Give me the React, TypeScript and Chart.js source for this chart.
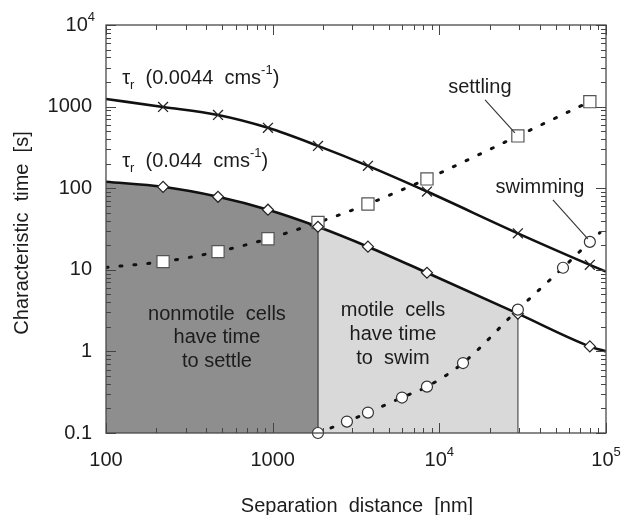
import React, { useEffect, useRef } from 'react';
import { Chart, registerables } from 'chart.js';

Chart.register(...registerables);

// ---- data (log-log) ----
const markerX = [220, 470, 937, 1870, 3730, 8430, 29600, 80000];
const tauSlowMarkY = [990, 790, 550, 330, 188, 91, 28, 11.5]; // crosses, 0.0044 cm/s
const tauFastMarkY = [104, 78.5, 54.5, 33.7, 19.2, 9.2, 2.9, 1.15]; // diamonds, 0.044 cm/s
const settlingMarkY = [12.6, 16.7, 24, 38, 64, 130, 437, 1150]; // squares
const swimMarkX = [1870, 2790, 3730, 5970, 8430, 13870, 29600, 55200, 80000];
const swimMarkY = [0.1, 0.138, 0.178, 0.272, 0.37, 0.72, 3.25, 10.6, 22]; // circles

const curveX = [100, 220, 470, 937, 1870, 3730, 8430, 29600, 80000, 100000];
const tauSlowCurveY = [1240, 990, 790, 550, 330, 188, 91, 28, 11.5, 9.5];
const tauFastCurveY = [120, 104, 78.5, 54.5, 33.7, 19.2, 9.2, 2.9, 1.15, 1.0];
const settlingCurveX = [100, 220, 470, 937, 1870, 3730, 8430, 29600, 80000];
const settlingCurveY = [10.7, 12.6, 16.7, 24, 38, 64, 130, 437, 1150];
const swimCurveX = [1870, 2790, 3730, 5970, 8430, 13870, 29600, 55200, 80000, 92000];
const swimCurveY = [0.1, 0.138, 0.178, 0.272, 0.37, 0.72, 3.25, 10.6, 22, 28.5];

const settleLimit = 1870; // nonmotile region right edge
const swimLimit = 29600; // motile region right edge

const xMin = 100, xMax = 100000, yMin = 0.1, yMax = 10000;
const xTickValues = [100, 1000, 10000, 100000];
const xTickLabels = [['100', ''], ['1000', ''], ['10', '4'], ['10', '5']];
const yTickValues = [0.1, 1, 10, 100, 1000, 10000];
const yTickLabels = [['0.1', ''], ['1', ''], ['10', ''], ['100', ''], ['1000', ''], ['10', '4']];

const xTitle = 'Separation  distance  [nm]';
const yTitle = 'Characteristic  time  [s]';

const FONT = '"Liberation Sans", Arial, Helvetica, sans-serif';
const TXT = '#1c1c1c';

const pts = (xs: number[], ys: number[]) => xs.map((x, i) => ({ x, y: ys[i] }));

function minorValues(min: number, max: number) {
  const out: { v: number; major: boolean }[] = [];
  for (let e = Math.round(Math.log10(min)); e <= Math.round(Math.log10(max)); e++) {
    for (let m = 1; m < 10; m++) {
      const v = m * Math.pow(10, e);
      if (v >= min * 0.999 && v <= max * 1.001) out.push({ v, major: m === 1 });
    }
  }
  return out;
}

type Part = { t: string; s: number; dy: number };
function richWidth(ctx: CanvasRenderingContext2D, parts: Part[]) {
  let w = 0;
  for (const p of parts) {
    ctx.font = `${p.s}px ${FONT}`;
    w += ctx.measureText(p.t).width;
  }
  return w;
}
function drawRich(ctx: CanvasRenderingContext2D, parts: Part[], x: number, y: number, align: 'left' | 'center' | 'right') {
  const w = richWidth(ctx, parts);
  let cx = align === 'left' ? x : align === 'center' ? x - w / 2 : x - w;
  ctx.textAlign = 'left';
  ctx.textBaseline = 'middle';
  for (const p of parts) {
    ctx.font = `${p.s}px ${FONT}`;
    ctx.fillText(p.t, cx, y + p.dy);
    cx += ctx.measureText(p.t).width;
  }
}
const numParts = (base: string, sup: string): Part[] =>
  sup ? [{ t: base, s: 20, dy: 0 }, { t: sup, s: 13, dy: -8 }] : [{ t: base, s: 20, dy: 0 }];

const tauLabels = [
  { x: 125, y: 2240, speed: '0.0044' },
  { x: 125, y: 210, speed: '0.044' },
];
const callouts = [
  { text: 'settling', x: 17500, y: 1700, x1: 18800, y1: 1208, x2: 28400, y2: 476 },
  { text: 'swimming', x: 40200, y: 101, x1: 48000, y1: 72, x2: 77800, y2: 24 },
];
const regionLabels = [
  { x: 463, ys: [2.82, 1.48, 0.75], lines: ['nonmotile  cells', 'have time', 'to settle'] },
  { x: 5270, ys: [3.17, 1.59, 0.83], lines: ['motile  cells', 'have time', 'to  swim'] },
];

const decorPlugin = {
  id: 'decor',
  afterDatasetsDraw(chart: any) {
    const ctx: CanvasRenderingContext2D = chart.ctx;
    const { left, right, top, bottom } = chart.chartArea;
    const xs = chart.scales.x;
    const ys = chart.scales.y;
    ctx.save();
    // frame
    ctx.strokeStyle = '#4a4a4a';
    ctx.lineWidth = 1.3;
    ctx.strokeRect(left, top, right - left, bottom - top);
    // ticks (inward, all four sides)
    ctx.lineWidth = 1;
    ctx.strokeStyle = '#444';
    ctx.beginPath();
    for (const { v, major } of minorValues(xMin, xMax)) {
      const px = Math.round(xs.getPixelForValue(v)) + 0.5;
      const L = major ? 10 : 5;
      ctx.moveTo(px, bottom);
      ctx.lineTo(px, bottom - L);
      ctx.moveTo(px, top);
      ctx.lineTo(px, top + L);
    }
    for (const { v, major } of minorValues(yMin, yMax)) {
      const py = Math.round(ys.getPixelForValue(v)) + 0.5;
      const L = major ? 10 : 5;
      ctx.moveTo(left, py);
      ctx.lineTo(left + L, py);
      ctx.moveTo(right, py);
      ctx.lineTo(right - L, py);
    }
    ctx.stroke();

    ctx.fillStyle = TXT;
    // tick labels
    xTickValues.forEach((v, i) => {
      const [b, s] = xTickLabels[i];
      drawRich(ctx, numParts(b, s), xs.getPixelForValue(v), bottom + 27, 'center');
    });
    yTickValues.forEach((v, i) => {
      const [b, s] = yTickLabels[i];
      drawRich(ctx, numParts(b, s), left - 14 + (s ? 3 : 0), ys.getPixelForValue(v), 'right');
    });
    // axis titles
    ctx.font = `20px ${FONT}`;
    ctx.textAlign = 'center';
    ctx.textBaseline = 'middle';
    ctx.fillText(xTitle, (left + right) / 2 + 1, bottom + 73);
    ctx.save();
    ctx.translate(22, 233);
    ctx.rotate(-Math.PI / 2);
    ctx.fillText(yTitle, 0, 0);
    ctx.restore();

    // tau labels
    for (const t of tauLabels) {
      drawRich(
        ctx,
        [
          { t: 'τ', s: 20, dy: 0 },
          { t: 'r', s: 13, dy: 7 },
          { t: '  (' + t.speed + '  cms', s: 20, dy: 0 },
          { t: '-1', s: 13, dy: -8 },
          { t: ')', s: 20, dy: 0 },
        ],
        xs.getPixelForValue(t.x),
        ys.getPixelForValue(t.y),
        'left'
      );
    }
    // callouts
    for (const c of callouts) {
      ctx.font = `20px ${FONT}`;
      ctx.textAlign = 'center';
      ctx.textBaseline = 'middle';
      ctx.fillText(c.text, xs.getPixelForValue(c.x), ys.getPixelForValue(c.y));
      ctx.strokeStyle = '#333';
      ctx.lineWidth = 1.1;
      ctx.beginPath();
      ctx.moveTo(xs.getPixelForValue(c.x1), ys.getPixelForValue(c.y1));
      ctx.lineTo(xs.getPixelForValue(c.x2), ys.getPixelForValue(c.y2));
      ctx.stroke();
    }
    // region labels
    for (const r of regionLabels) {
      ctx.font = `20px ${FONT}`;
      ctx.textAlign = 'center';
      ctx.textBaseline = 'middle';
      r.lines.forEach((ln, i) => ctx.fillText(ln, xs.getPixelForValue(r.x), ys.getPixelForValue(r.ys[i])));
    }
    ctx.restore();
  },
};

export default function App() {
  const ref = useRef<HTMLCanvasElement>(null);
  useEffect(() => {
    document.body.style.margin = '0';
    const canvas = ref.current!;
    const fastAtSettle = tauFastCurveY[curveX.indexOf(settleLimit)];
    const fastAtSwim = tauFastCurveY[curveX.indexOf(swimLimit)];
    const chart = new Chart(canvas, {
      type: 'line',
      data: {
        datasets: [
          // tau (0.044) curve with shaded regions beneath
          {
            data: pts(curveX, tauFastCurveY),
            borderColor: '#111',
            borderWidth: 2.6,
            pointRadius: 0,
            cubicInterpolationMode: 'monotone',
            fill: 'start',
            backgroundColor: 'rgba(0,0,0,0)',
            segment: {
              backgroundColor: (c: any) => {
                const x1 = c.p1.parsed.x;
                if (x1 <= settleLimit) return '#8e8e8e';
                if (x1 <= swimLimit) return '#d9d9d9';
                return 'rgba(0,0,0,0)';
              },
            },
            order: 20,
          } as any,
          {
            data: [{ x: settleLimit, y: yMin }, { x: settleLimit, y: fastAtSettle }],
            borderColor: '#555',
            borderWidth: 1.6,
            pointRadius: 0,
            order: 15,
          },
          {
            data: [{ x: swimLimit, y: yMin }, { x: swimLimit, y: fastAtSwim }],
            borderColor: '#777',
            borderWidth: 1.6,
            pointRadius: 0,
            order: 15,
          },
          // tau (0.0044) curve
          {
            data: pts(curveX, tauSlowCurveY),
            borderColor: '#111',
            borderWidth: 2.6,
            pointRadius: 0,
            cubicInterpolationMode: 'monotone',
            order: 12,
          },
          // settling dotted
          {
            data: pts(settlingCurveX, settlingCurveY),
            borderColor: '#111',
            borderWidth: 3,
            borderDash: [2, 12],
            borderCapStyle: 'round',
            pointRadius: 0,
            cubicInterpolationMode: 'monotone',
            order: 11,
          },
          // swimming dotted
          {
            data: pts(swimCurveX, swimCurveY),
            borderColor: '#111',
            borderWidth: 3,
            borderDash: [2, 12],
            borderCapStyle: 'round',
            pointRadius: 0,
            cubicInterpolationMode: 'monotone',
            order: 11,
          },
          // markers
          {
            data: pts(markerX, tauSlowMarkY),
            showLine: false,
            pointStyle: 'crossRot',
            pointRadius: 7,
            pointBorderWidth: 1.3,
            pointBorderColor: '#222',
            order: 4,
            clip: false,
          } as any,
          {
            data: pts(markerX, settlingMarkY),
            showLine: false,
            pointStyle: 'rect',
            pointRadius: 8.6,
            pointBorderWidth: 1.2,
            pointBorderColor: '#555',
            pointBackgroundColor: '#fff',
            order: 3,
            clip: false,
          } as any,
          {
            data: pts(markerX, tauFastMarkY),
            showLine: false,
            pointStyle: 'rectRot',
            pointRadius: 5.5,
            pointBorderWidth: 1.2,
            pointBorderColor: '#222',
            pointBackgroundColor: '#fff',
            order: 2,
            clip: false,
          } as any,
          {
            data: pts(swimMarkX, swimMarkY),
            showLine: false,
            pointStyle: 'circle',
            pointRadius: 5.5,
            pointBorderWidth: 1.2,
            pointBorderColor: '#333',
            pointBackgroundColor: '#fff',
            order: 1,
            clip: false,
          } as any,
        ],
      },
      options: {
        responsive: false,
        animation: false,
        devicePixelRatio: 1,
        layout: { padding: { top: 25, right: 19, left: 0, bottom: 0 } },
        plugins: { legend: { display: false }, tooltip: { enabled: false } },
        scales: {
          x: {
            type: 'logarithmic',
            min: xMin,
            max: xMax,
            grid: { display: false },
            border: { display: false },
            ticks: { display: false },
            afterFit: (s: any) => {
              s.height = 82;
            },
          },
          y: {
            type: 'logarithmic',
            min: yMin,
            max: yMax,
            grid: { display: false },
            border: { display: false },
            ticks: { display: false },
            afterFit: (s: any) => {
              s.width = 106;
            },
          },
        },
      } as any,
      plugins: [decorPlugin],
    });
    return () => chart.destroy();
  }, []);
  return (
    <div style={{ width: 625, height: 515, background: '#fff' }}>
      <canvas ref={ref} width={625} height={515} />
    </div>
  );
}
